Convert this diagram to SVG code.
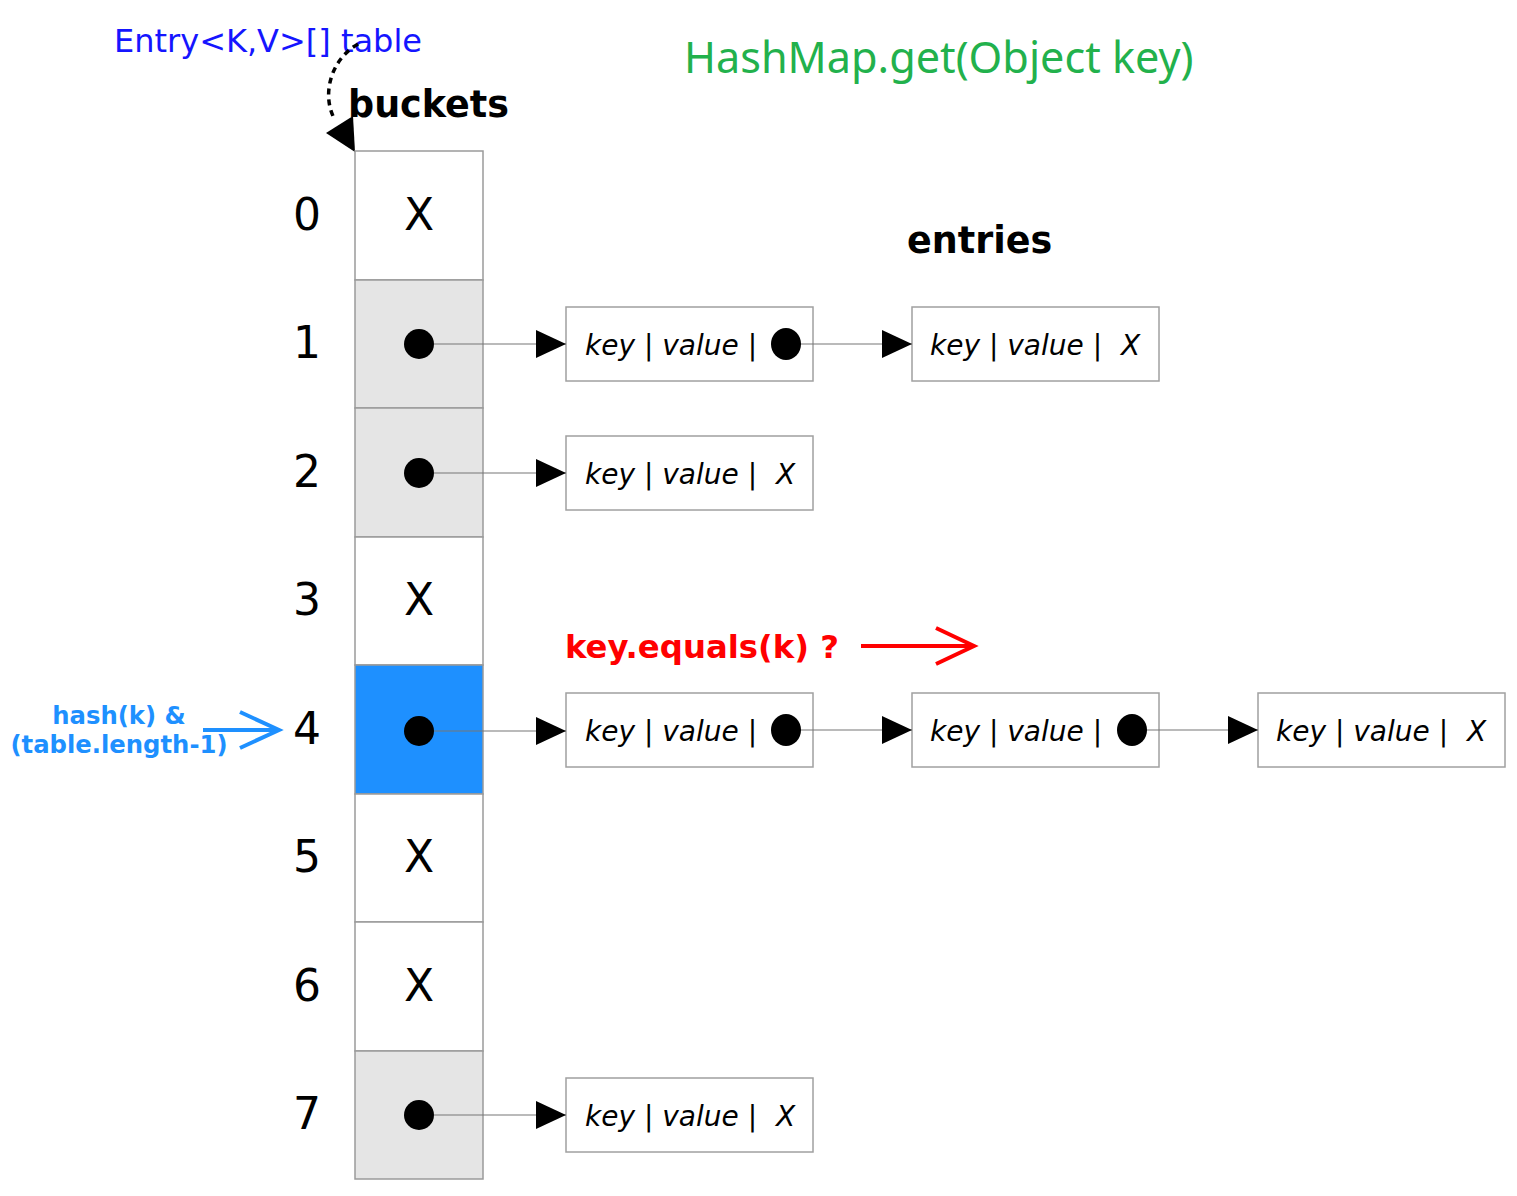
<svg xmlns="http://www.w3.org/2000/svg" width="1517" height="1196" viewBox="0 0 1517 1196">
<style>
.cell{stroke:#9a9a9a;stroke-width:1.5}
.idx{font-family:"DejaVu Sans",sans-serif;font-size:44px;fill:#000;text-anchor:middle}
.x{font-family:"DejaVu Sans",sans-serif;font-size:44px;fill:#000;text-anchor:middle}
.box{fill:#fff;stroke:#a0a0a0;stroke-width:1.5}
.kv{font-family:"DejaVu Sans",sans-serif;font-size:28px;font-style:italic;fill:#000}
.ln{stroke:#777;stroke-width:1.2;fill:none}
.hd{font-family:"DejaVu Sans",sans-serif;font-size:36.5px;font-weight:bold;fill:#000}
</style>
<defs>
<marker id="tri" viewBox="0 0 30 30" refX="30" refY="15" markerWidth="30" markerHeight="30" markerUnits="userSpaceOnUse" orient="auto">
<path d="M0,1 L30,15 L0,29 Z" fill="#000"/>
</marker>
</defs>
<rect width="1517" height="1196" fill="#fff"/>
<text x="684" y="73" font-family="'Noto Sans',sans-serif" font-size="43.2" fill="#22b14c">HashMap.get(Object key)</text>
<text x="114" y="52" font-family="'DejaVu Sans',sans-serif" font-size="32" fill="#1515ff">Entry&lt;K,V&gt;[] table</text>
<text class="hd" x="348" y="117">buckets</text>
<text class="hd" x="907" y="253">entries</text>
<path d="M358,44 C330,60 322,95 334,118" fill="none" stroke="#000" stroke-width="3.5" stroke-dasharray="6,5"/>
<path d="M326,133 L353,116 L355,152 Z" fill="#000"/>
<g id="buckets">
<g id="bucket0"><rect class="cell" x="355" y="151" width="128" height="129" fill="#fff"/><text class="idx" x="307" y="230">0</text><text class="x" x="419" y="230">X</text></g>
<g id="bucket1"><rect class="cell" x="355" y="280" width="128" height="128" fill="#e5e5e5"/><text class="idx" x="307" y="358">1</text><circle cx="419" cy="344" r="15"/></g>
<g id="bucket2"><rect class="cell" x="355" y="408" width="128" height="129" fill="#e5e5e5"/><text class="idx" x="307" y="487">2</text><circle cx="419" cy="473" r="15"/></g>
<g id="bucket3"><rect class="cell" x="355" y="537" width="128" height="128" fill="#fff"/><text class="idx" x="307" y="615">3</text><text class="x" x="419" y="615">X</text></g>
<g id="bucket4"><rect class="cell" x="355" y="665" width="128" height="129" fill="#1e90ff"/><text class="idx" x="307" y="744">4</text><circle cx="419" cy="731" r="15"/></g>
<g id="bucket5"><rect class="cell" x="355" y="794" width="128" height="128" fill="#fff"/><text class="idx" x="307" y="872">5</text><text class="x" x="419" y="872">X</text></g>
<g id="bucket6"><rect class="cell" x="355" y="922" width="128" height="129" fill="#fff"/><text class="idx" x="307" y="1001">6</text><text class="x" x="419" y="1001">X</text></g>
<g id="bucket7"><rect class="cell" x="355" y="1051" width="128" height="128" fill="#e5e5e5"/><text class="idx" x="307" y="1129">7</text><circle cx="419" cy="1115" r="15"/></g>
</g>
<g id="entry1a"><rect class="box" x="566" y="307" width="247" height="74"/><text class="kv" x="585" y="355">key | value |</text><ellipse cx="786" cy="344" rx="15" ry="16"/></g>
<g id="entry1b"><rect class="box" x="912" y="307" width="247" height="74"/><text class="kv" x="930" y="355">key | value |</text><text class="kv" x="1121" y="355">X</text></g>
<g id="entry2a"><rect class="box" x="566" y="436" width="247" height="74"/><text class="kv" x="585" y="484">key | value |</text><text class="kv" x="776" y="484">X</text></g>
<g id="entry4a"><rect class="box" x="566" y="693" width="247" height="74"/><text class="kv" x="585" y="741">key | value |</text><ellipse cx="786" cy="730" rx="15" ry="16"/></g>
<g id="entry4b"><rect class="box" x="912" y="693" width="247" height="74"/><text class="kv" x="930" y="741">key | value |</text><ellipse cx="1132" cy="730" rx="15" ry="16"/></g>
<g id="entry4c"><rect class="box" x="1258" y="693" width="247" height="74"/><text class="kv" x="1276" y="741">key | value |</text><text class="kv" x="1467" y="741">X</text></g>
<g id="entry7a"><rect class="box" x="566" y="1078" width="247" height="74"/><text class="kv" x="585" y="1126">key | value |</text><text class="kv" x="776" y="1126">X</text></g>
<g id="connectors">
<line class="ln" x1="434" y1="344" x2="566" y2="344" marker-end="url(#tri)"/>
<line class="ln" x1="801" y1="344" x2="912" y2="344" marker-end="url(#tri)"/>
<line class="ln" x1="434" y1="473" x2="566" y2="473" marker-end="url(#tri)"/>
<line class="ln" x1="434" y1="731" x2="566" y2="731" marker-end="url(#tri)"/>
<line class="ln" x1="801" y1="730" x2="912" y2="730" marker-end="url(#tri)"/>
<line class="ln" x1="1147" y1="730" x2="1258" y2="730" marker-end="url(#tri)"/>
<line class="ln" x1="434" y1="1115" x2="566" y2="1115" marker-end="url(#tri)"/>
<g fill="none" stroke="#1e90ff" stroke-width="4">
<line x1="203" y1="730" x2="279" y2="730"/>
<polyline points="240,712 279,730 240,748"/>
</g>
<g fill="none" stroke="#ff0000" stroke-width="4">
<line x1="861" y1="646" x2="974" y2="646"/>
<polyline points="936,628 974,646 936,664"/>
</g>
</g>
<text font-family="'DejaVu Sans',sans-serif" font-size="24.3" font-weight="bold" fill="#1e90ff" text-anchor="middle"><tspan x="119" y="724">hash(k) &amp;</tspan><tspan x="119" y="753">(table.length-1)</tspan></text>
<text x="565" y="658" font-family="'DejaVu Sans',sans-serif" font-size="32.3" font-weight="bold" fill="#ff0000">key.equals(k) ?</text>
</svg>
